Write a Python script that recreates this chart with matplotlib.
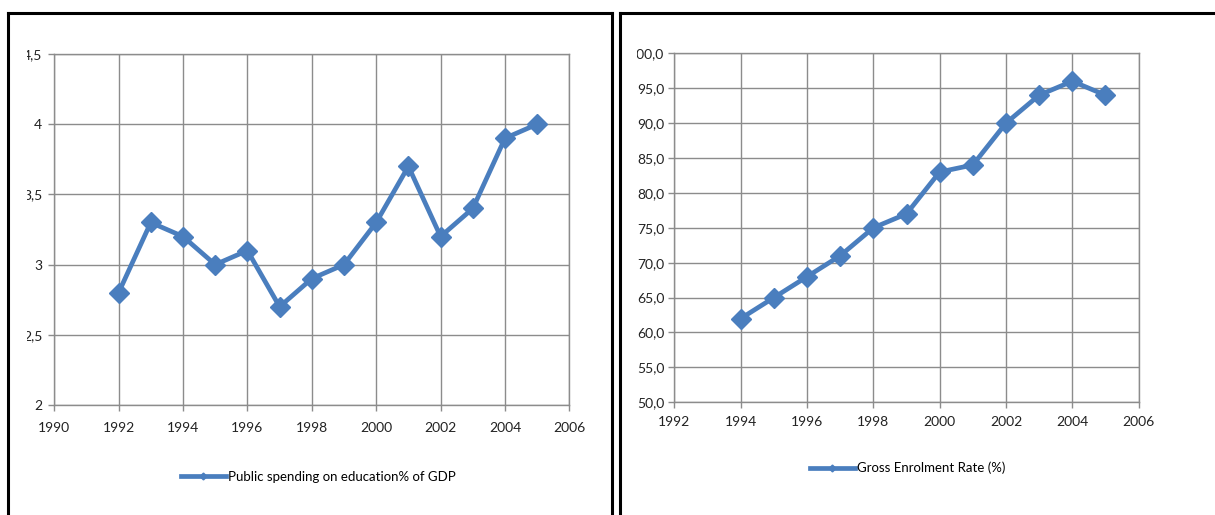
import matplotlib
matplotlib.use("Agg")
import matplotlib.pyplot as plt
from matplotlib.lines import Line2D
from matplotlib.transforms import Bbox

plt.rcParams["font.family"] = ["Lato", "DejaVu Sans"]

# -------------------
# Data
# -------------------
spend_years = [1992, 1993, 1994, 1995, 1996, 1997, 1998, 1999, 2000, 2001, 2002, 2003, 2004, 2005]
spend_gdp = [2.8, 3.3, 3.2, 3.0, 3.1, 2.7, 2.9, 3.0, 3.3, 3.7, 3.2, 3.4, 3.9, 4.0]

enrol_years = [1994, 1995, 1996, 1997, 1998, 1999, 2000, 2001, 2002, 2003, 2004, 2005]
enrol_rate = [62, 65, 68, 71, 75, 77, 83, 84, 90, 94, 96, 94]

spend_label = "Public spending on education% of GDP"
enrol_label = "Gross Enrolment Rate (%)"

left_xticks = [1990, 1992, 1994, 1996, 1998, 2000, 2002, 2004, 2006]
left_yticks = [2, 2.5, 3, 3.5, 4, 4.5]
left_ylabels = ["2", "2,5", "3", "3,5", "4", "4,5"]

right_xticks = [1992, 1994, 1996, 1998, 2000, 2002, 2004, 2006]
right_yticks = [50, 55, 60, 65, 70, 75, 80, 85, 90, 95, 100]
right_ylabels = ["50,0", "55,0", "60,0", "65,0", "70,0", "75,0", "80,0",
                 "85,0", "90,0", "95,0", "100,0"]

BLUE = "#4A7EBE"
GRID = "#8C8C8C"
W, H = 1215, 515
FS = 10

fig = plt.figure(figsize=(W / 100, H / 100), dpi=100)
fig.patch.set_facecolor("white")


def style_axes(ax, xticks, yticks, ylabels, clip_x0, clip_x1, xpad, ypad):
    ax.set_xticks(xticks)
    ax.set_xticklabels([str(t) for t in xticks])
    ax.set_yticks(yticks)
    ax.set_yticklabels(ylabels)
    ax.grid(True, color=GRID, linewidth=1.0)
    ax.set_axisbelow(True)
    for side in ax.spines:
        ax.spines[side].set_color(GRID)
        ax.spines[side].set_linewidth(1.0)
    ax.tick_params(axis="both", direction="out", length=4, width=1,
                   color=GRID, labelsize=FS, labelcolor="#222222")
    ax.tick_params(axis="x", pad=xpad)
    ax.tick_params(axis="y", pad=ypad)
    # the picture is cropped, so the widest y labels lose their first digit
    box = Bbox.from_extents(clip_x0, 0, clip_x1, H)
    for lab in ax.get_yticklabels():
        lab.set_clip_on(True)
        lab.set_clip_box(box)


# -------------------
# Left chart
# -------------------
ax1 = fig.add_axes([54.2 / W, 1 - 405 / H, (569.4 - 54.2) / W, (405 - 54) / H])
ax1.plot(spend_years, spend_gdp, color=BLUE, linewidth=3.4, marker="D",
         markersize=10.5, markeredgecolor=BLUE, label=spend_label)
ax1.set_xlim(1990, 2006)
ax1.set_ylim(2, 4.5)
style_axes(ax1, left_xticks, left_yticks, left_ylabels, 27, 612, 8, 4.5)
ax1.legend(loc="center left", bbox_to_anchor=(181 / W, 1 - 477 / H),
           bbox_transform=fig.transFigure, frameon=False, fontsize=9.5,
           handlelength=3.4, handletextpad=0.15, markerscale=0.33,
           borderaxespad=0, borderpad=0)

# -------------------
# Right chart
# -------------------
ax2 = fig.add_axes([674.4 / W, 1 - 402.3 / H, (1138.6 - 674.4) / W, (402.3 - 53.3) / H])
ax2.plot(enrol_years, enrol_rate, color=BLUE, linewidth=3.4, marker="D",
         markersize=10.5, markeredgecolor=BLUE, label=enrol_label)
ax2.set_xlim(1992, 2006)
ax2.set_ylim(50, 100)
style_axes(ax2, right_xticks, right_yticks, right_ylabels, 636.5, W, 6, 3.3)
ax2.legend(loc="center left", bbox_to_anchor=(810 / W, 1 - 468 / H),
           bbox_transform=fig.transFigure, frameon=False, fontsize=9.5,
           handlelength=3.4, handletextpad=0.15, markerscale=0.33,
           borderaxespad=0, borderpad=0)

# -------------------
# Panel borders (two cropped chart frames)
# -------------------
top = 1 - 13 / H
for xs, ys in [
    ([8 / W, 8 / W], [0, top]),
    ([8 / W, 612 / W], [top, top]),
    ([612 / W, 612 / W], [0, top]),
    ([620 / W, 620 / W], [0, top]),
    ([620 / W, 1], [top, top]),
]:
    fig.add_artist(Line2D(xs, ys, color="black", linewidth=2.2,
                          transform=fig.transFigure, solid_capstyle="projecting"))

fig.savefig("out.png", dpi=100, facecolor="white")
